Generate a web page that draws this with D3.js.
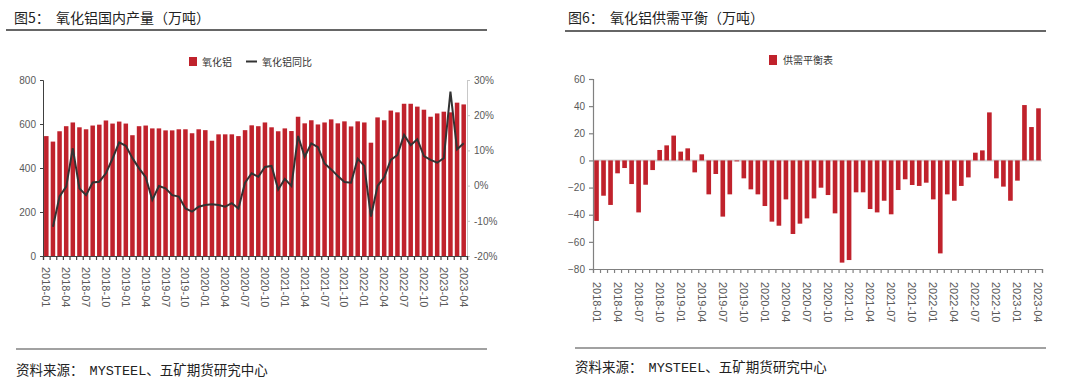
<!DOCTYPE html>
<html lang="zh">
<head>
<meta charset="UTF-8">
<title>氧化铝产量与供需平衡</title>
<style>
  body { margin: 0; background: #fff; }
  text { font-family: "Liberation Sans", Arial, sans-serif; }
  .cjk { font-family: "Noto Sans CJK SC", sans-serif; }
  .tick text { fill: #595959; font-size: 10px; }
</style>
</head>
<body>
<script src="https://d3js.org/d3.v7.min.js"></script>
<script>
// months 2018-01 .. 2023-04
const months = d3.utcMonth.range(new Date(Date.UTC(2018, 0, 1)), new Date(Date.UTC(2023, 4, 1)))
  .map(d3.utcFormat("%Y-%m"));
const tickMonths = months.filter((m, i) => i % 3 === 0);

// 氧化铝产量 (万吨)
const production = [545,520,567,590,607,585,576,593,597,616, 602,611,602,549,590,593,580,580,571,571,
  576,576,558,576,572,524,553,553,553,545, 572,594,590,607,585,567,580,568,633,603,
  617,598,607,621,603,612,589,612,607,515, 630,617,661,653,692,692,679,665,633,648,
  656,653,697,689];
// 氧化铝同比 (%)
const yoy = [null,-11.7,-3.1,-0.3,10.6,-0.8,-2.7,0.9,1.1,3.5, 7.7,12.3,11.3,7.8,4.9,2.4,-4.1,-0.1,-0.8,-2.7,
  -3.1,-6.5,-7.4,-6.0,-5.5,-5.3,-5.5,-6.0,-5.0,-6.5, 0.8,3.5,2.5,5.3,5.6,-1.1,1.9,-0.1,14.1,8.2,
  12.0,10.9,6.3,4.6,2.7,1.0,0.8,7.6,5.6,-8.8, -0.1,2.4,7.3,8.7,14.4,11.5,13.2,8.4,7.3,6.5,
  7.8,26.7,10.3,12.0];
// 供需平衡表 (万吨)
const balance = [-44.6,-26,-32.8,-9.5,-5.6,-17.4,-38.3,-17.9,-7.1,7.7, 11.1,18.3,6.5,8.9,-8.8,4.5,-25,-10,-41.4,-25,
  -0.7,-13.2,-21.3,-25,-33.6,-45.1,-48.1,-28.7,-54.2,-46.6, -42.7,-28,-20.1,-25.5,-39,-75.3,-73.4,-23.5,-23.5,-35.8,
  -38.3,-29.7,-39.7,-21.8,-13.9,-18.1,-18.8,-16.4,-28.7,-68.5, -25,-29.7,-18.8,-12.5,5.7,7.4,35.4,-13.2,-19.3,-29.7,
  -14.9,40.8,24.6,38.4];

const prodTicks = [0, 200, 400, 600, 800];
const yoyTicks = [-20, -10, 0, 10, 20, 30];
const balTicks = [-80, -60, -40, -20, 0, 20, 40, 60];

const red = "#c0222c";

const svg = d3.select("body").append("svg")
  .attr("width", 1080).attr("height", 379);

function header(x0, x1, tx, title, lineY, footY, footLineY) {
  svg.append("text").attr("class", "cjk").attr("x", tx).attr("y", 23)
    .attr("font-size", 14).attr("fill", "#222").style("white-space", "pre")
    .text(title);
  svg.append("line").attr("x1", x0).attr("x2", x1).attr("y1", lineY).attr("y2", lineY)
    .attr("stroke", "#333").attr("stroke-width", 1.5);
  svg.append("line").attr("x1", x0 + 10).attr("x2", x1).attr("y1", footLineY).attr("y2", footLineY)
    .attr("stroke", "#444").attr("stroke-width", 1.2);
  const f = svg.append("text").attr("class", "cjk").attr("x", x0 + 10).attr("y", footY)
    .attr("font-size", 13.5).attr("fill", "#222").style("white-space", "pre");
  f.append("tspan").text("资料来源：  ");
  f.append("tspan").attr("font-family", "'Liberation Mono', monospace").text("MYSTEEL");
  f.append("tspan").text("、五矿期货研究中心");
}

function xAxis(x0, x1, y0, labelOff, color) {
  const idx = d3.scaleLinear().domain([0, months.length]).range([x0, x1]);
  svg.append("g").attr("transform", `translate(0,${y0})`)
    .call(d3.axisBottom(idx).tickValues(d3.range(months.length + 1)).tickSize(4).tickFormat(""))
    .call(g => g.selectAll("line,path").attr("stroke", color).attr("stroke-width", 1.2));
  const band = d3.scaleBand().domain(months).range([x0, x1]).paddingInner(0.32).paddingOuter(0.16);
  svg.append("g").selectAll("text").data(tickMonths).join("text")
    .attr("transform", d => `translate(${band(d) + band.bandwidth() / 2 - 4},${y0 + labelOff}) rotate(90)`)
    .attr("font-size", 11).attr("fill", "#595959")
    .text(d => d);
  return band;
}

// ---------- chart 1 ----------
header(6, 487, 14, "图5：  氧化铝国内产量（万吨）", 30, 375, 349);

const yL = d3.scaleLinear().domain([0, 800]).range([256, 80]);
const yR = d3.scaleLinear().domain([-20, 30]).range([256, 80]);
const xL = d3.scaleBand().domain(months).range([43, 467]).paddingInner(0.32).paddingOuter(0.16);

svg.append("g").selectAll("rect").data(production).join("rect")
  .attr("x", (d, i) => xL(months[i]))
  .attr("width", xL.bandwidth())
  .attr("y", d => yL(d))
  .attr("height", d => yL(0) - yL(d))
  .attr("fill", red);

svg.append("path")
  .datum(yoy.map((v, i) => [months[i], v]))
  .attr("fill", "none").attr("stroke", "#333").attr("stroke-width", 2)
  .attr("d", d3.line().defined(d => d[1] != null)
    .x(d => xL(d[0]) + xL.bandwidth() / 2).y(d => yR(d[1])));

svg.append("g").attr("transform", "translate(43,0)")
  .call(d3.axisLeft(yL).tickValues(prodTicks).tickSize(3).tickPadding(4))
  .call(g => g.selectAll("line,path").attr("stroke", "#404040"));
svg.append("g").attr("transform", "translate(467,0)")
  .call(d3.axisRight(yR).tickValues(yoyTicks).tickSize(3).tickPadding(4).tickFormat(d => d + "%"))
  .call(g => g.selectAll("line,path").attr("stroke", "#c8c8c8"));
xAxis(43, 467, 256, 11, "#404040");

// legend 1
svg.append("rect").attr("x", 189).attr("y", 57).attr("width", 8).attr("height", 9).attr("fill", red);
svg.append("text").attr("class", "cjk").attr("x", 202).attr("y", 65.5).attr("font-size", 10)
  .attr("fill", "#333").text("氧化铝");
svg.append("line").attr("x1", 246).attr("x2", 257).attr("y1", 61.5).attr("y2", 61.5)
  .attr("stroke", "#333").attr("stroke-width", 2);
svg.append("text").attr("class", "cjk").attr("x", 262).attr("y", 65.5).attr("font-size", 10)
  .attr("fill", "#333").text("氧化铝同比");

// ---------- chart 2 ----------
header(565, 1046, 568, "图6：  氧化铝供需平衡（万吨）", 31, 372, 348);

const yB = d3.scaleLinear().domain([-80, 60]).range([269, 79]);
const xB = d3.scaleBand().domain(months).range([593, 1042]).paddingInner(0.34).paddingOuter(0.17);

svg.append("line").attr("x1", 593).attr("x2", 1042).attr("y1", yB(0)).attr("y2", yB(0))
  .attr("stroke", "#d4d4d4").attr("stroke-width", 2);

svg.append("g").selectAll("rect").data(balance).join("rect")
  .attr("x", (d, i) => xB(months[i]))
  .attr("width", xB.bandwidth())
  .attr("y", d => yB(Math.max(0, d)))
  .attr("height", d => Math.abs(yB(d) - yB(0)))
  .attr("fill", red);

svg.append("g").attr("transform", "translate(593,0)")
  .call(d3.axisLeft(yB).tickValues(balTicks).tickSize(4).tickPadding(4))
  .call(g => g.selectAll("line,path").attr("stroke", "#808080").attr("stroke-width", 1.2));
xAxis(593, 1042, 269, 13, "#808080");

svg.append("rect").attr("x", 769).attr("y", 55).attr("width", 8).attr("height", 10).attr("fill", red);
svg.append("text").attr("class", "cjk").attr("x", 783).attr("y", 64).attr("font-size", 10)
  .attr("fill", "#333").text("供需平衡表");
</script>
</body>
</html>
